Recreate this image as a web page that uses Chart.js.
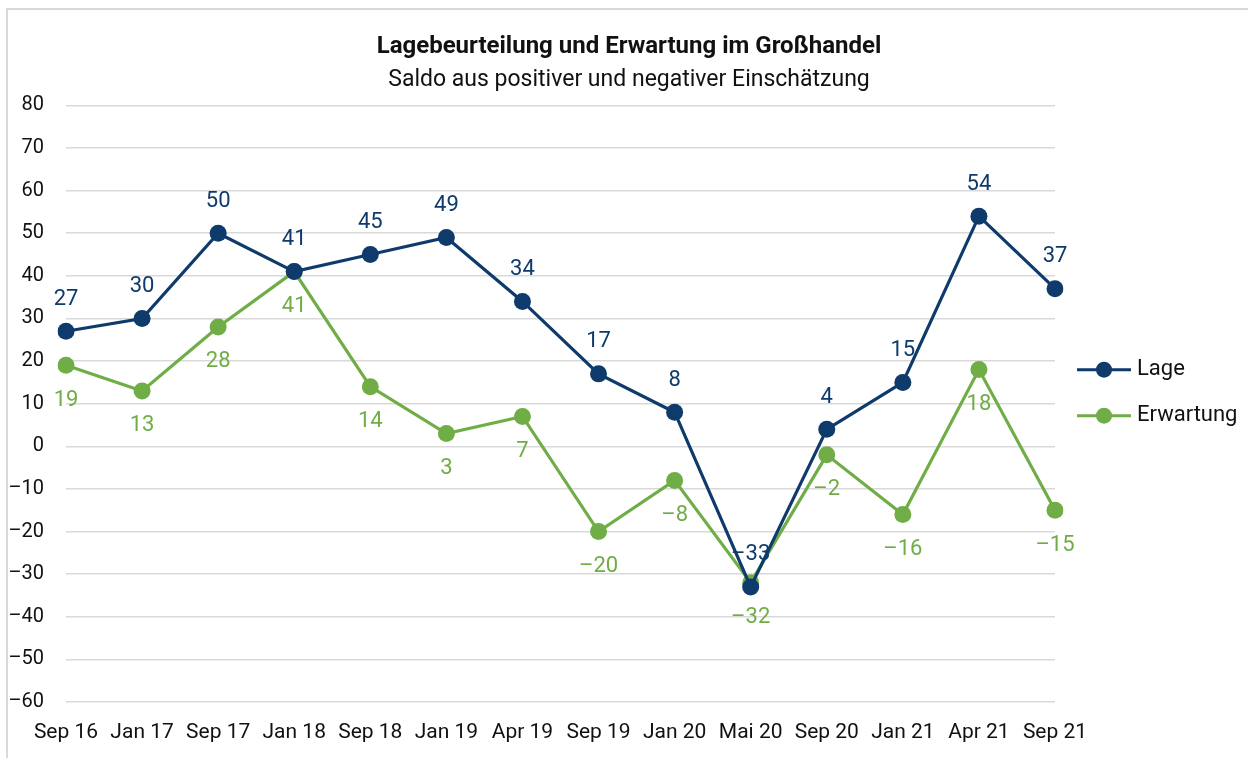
<!DOCTYPE html>
<html lang="de">
<head>
<meta charset="utf-8">
<title>Lagebeurteilung und Erwartung im Großhandel</title>
<script src="https://cdn.jsdelivr.net/npm/chart.js@4/dist/chart.umd.min.js"></script>
<style>
  html, body { margin: 0; padding: 0; background: #fff; }
  #wrap { position: relative; width: 1248px; height: 758px; }
</style>
</head>
<body>
<div id="wrap"><canvas id="chart"></canvas></div>
<script>
// --- data ---
const labels = ['Sep 16', 'Jan 17', 'Sep 17', 'Jan 18', 'Sep 18', 'Jan 19', 'Apr 19',
                'Sep 19', 'Jan 20', 'Mai 20', 'Sep 20', 'Jan 21', 'Apr 21', 'Sep 21'];
const lage =      [27, 30, 50, 41, 45, 49, 34, 17, 8, -33, 4, 15, 54, 37];
const erwartung = [19, 13, 28, 41, 14, 3, 7, -20, -8, -32, -2, -16, 18, -15];
const yTicks = [-60, -50, -40, -30, -20, -10, 0, 10, 20, 30, 40, 50, 60, 70, 80];

const NAVY = '#0e3a6c';
const GREEN = '#70ad47';
const FONT = 'Roboto, "Open Sans", sans-serif';

const fmt = v => v < 0 ? '\u2013' + Math.abs(v) : String(v);

// value labels above (Lage) / below (Erwartung) each point
const valueLabels = {
    id: 'valueLabels',
    afterDatasetsDraw(chart) {
        const ctx = chart.ctx;
        ctx.save();
        ctx.font = '22px ' + FONT;
        ctx.textAlign = 'center';
        ctx.textBaseline = 'middle';
        chart.data.datasets.forEach((ds, i) => {
            const meta = chart.getDatasetMeta(i);
            ctx.fillStyle = ds.borderColor;
            meta.data.forEach((pt, j) => {
                const dy = ds.labelPos === 'above' ? -32 : 35;
                ctx.fillText(fmt(ds.data[j]), pt.x, pt.y + dy);
            });
        });
        ctx.restore();
    }
};

// frame + legend on the right
const frameLegend = {
    id: 'frameLegend',
    afterDraw(chart) {
        const ctx = chart.ctx;
        const area = chart.chartArea;
        ctx.save();
        ctx.strokeStyle = '#d9d9d9';
        ctx.lineWidth = 2;
        ctx.beginPath();
        ctx.moveTo(7, 758);
        ctx.lineTo(7, 9);
        ctx.lineTo(1248, 9);
        ctx.stroke();

        const x0 = area.right + 22;
        let y = (area.top + area.bottom) / 2 - 34;
        ctx.font = '22px ' + FONT;
        ctx.textBaseline = 'middle';
        chart.data.datasets.forEach(ds => {
            ctx.strokeStyle = ds.borderColor;
            ctx.fillStyle = ds.borderColor;
            ctx.lineWidth = 3;
            ctx.beginPath();
            ctx.moveTo(x0, y);
            ctx.lineTo(x0 + 54, y);
            ctx.stroke();
            ctx.beginPath();
            ctx.arc(x0 + 27, y, 8, 0, Math.PI * 2);
            ctx.fill();
            ctx.fillStyle = '#111';
            ctx.fillText(ds.label, x0 + 60, y);
            y += 46;
        });
        ctx.restore();
    }
};

new Chart(document.getElementById('chart'), {
    type: 'line',
    data: {
        labels: labels,
        datasets: [
            { label: 'Lage', data: lage, borderColor: NAVY, backgroundColor: NAVY,
              labelPos: 'above' },
            { label: 'Erwartung', data: erwartung, borderColor: GREEN, backgroundColor: GREEN,
              labelPos: 'below' }
        ]
    },
    options: {
        responsive: true,
        maintainAspectRatio: false,
        animation: false,
        devicePixelRatio: 1,
        layout: { padding: { left: 10, right: 0, top: 24, bottom: 14 } },
        elements: {
            line: { borderWidth: 3.2, tension: 0 },
            point: { radius: 8.5, hoverRadius: 8.5, borderWidth: 0 }
        },
        plugins: {
            legend: { display: false },
            tooltip: { enabled: false },
            title: {
                display: true,
                text: 'Lagebeurteilung und Erwartung im Großhandel',
                color: '#111',
                font: { family: FONT, size: 24, weight: 'bold' },
                padding: { top: 9, bottom: 5 }
            },
            subtitle: {
                display: true,
                text: 'Saldo aus positiver und negativer Einschätzung',
                color: '#111',
                font: { family: FONT, size: 23 },
                padding: { bottom: 11 }
            }
        },
        scales: {
            x: {
                offset: false,
                grid: { display: false },
                border: { display: false },
                afterFit(axis) { axis.height = 42; },
                ticks: { color: '#111', font: { family: FONT, size: 21 }, padding: 10,
                         maxRotation: 0, autoSkip: false }
            },
            y: {
                min: -60,
                max: 80,
                afterBuildTicks(axis) { axis.ticks = yTicks.map(v => ({ value: v })); },
                afterFit(axis) { axis.width = 56; },
                grid: { color: '#d9d9d9', lineWidth: 1.5, drawTicks: false },
                border: { display: false },
                ticks: {
                    color: '#111', font: { family: FONT, size: 20 }, padding: 22,
                    callback: v => fmt(v)
                }
            },
            // empty axis on the right reserves room for the legend
            legendSpace: {
                type: 'linear',
                position: 'right',
                afterFit(axis) { axis.width = 193; },
                grid: { display: false },
                border: { display: false },
                ticks: { display: false }
            }
        }
    },
    plugins: [valueLabels, frameLegend]
});
</script>
</body>
</html>
